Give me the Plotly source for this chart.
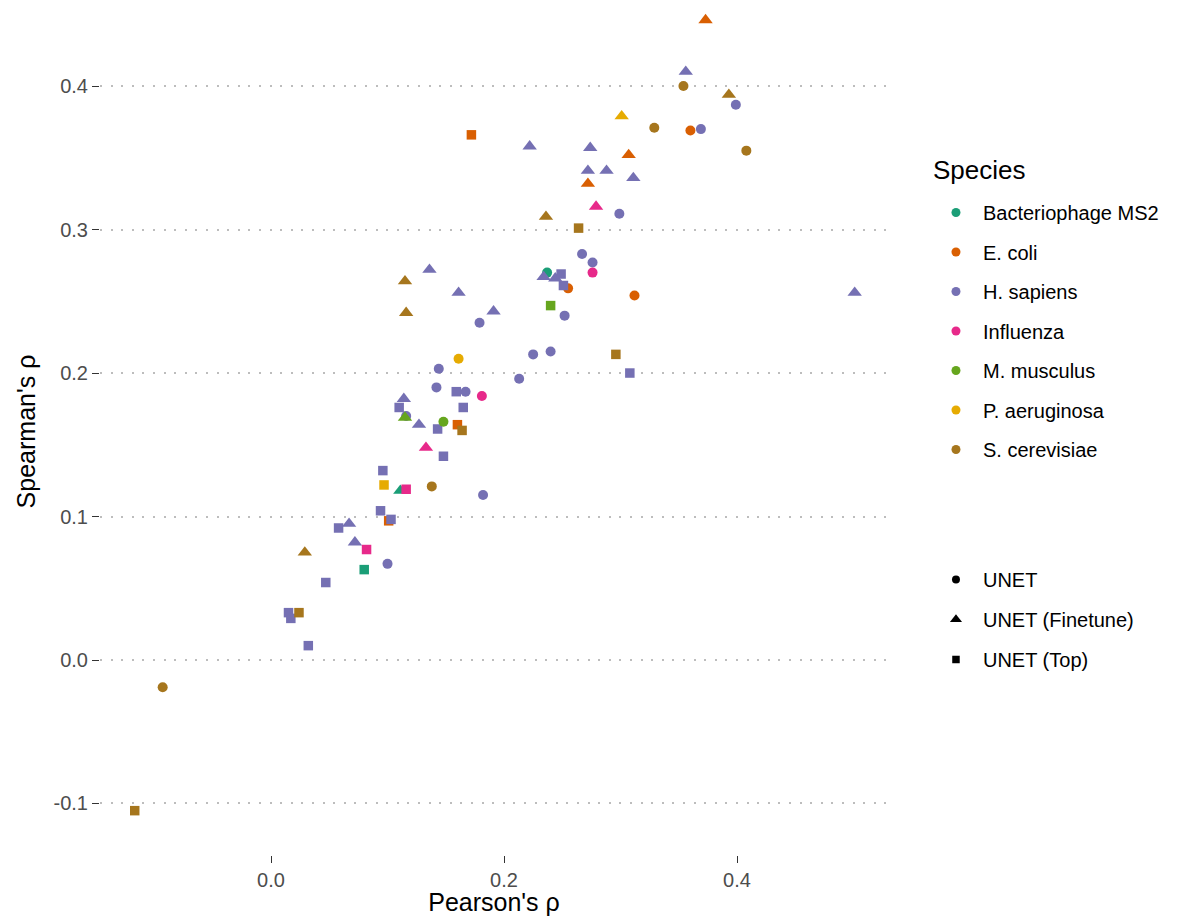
import plotly.graph_objects as go

# ---------------- data ----------------
species_names = ["Bacteriophage MS2", "E. coli", "H. sapiens", "Influenza",
                 "M. musculus", "P. aeruginosa", "S. cerevisiae"]
species_colors = ["#1B9E77", "#D95F02", "#7570B3", "#E7298A",
                  "#66A61E", "#E6AB02", "#A6761D"]
model_names = ["UNET", "UNET (Finetune)", "UNET (Top)"]
model_symbols = ["circle", "triangle-up", "square"]

ms2_pearson = [0.237, 0.111, 0.080]
ms2_spearman = [0.270, 0.118, 0.063]
ms2_model = ["UNET", "UNET (Finetune)", "UNET (Top)"]

ecoli_pearson = [0.360, 0.255, 0.312, 0.373, 0.307, 0.272, 0.172, 0.160, 0.101]
ecoli_spearman = [0.369, 0.259, 0.254, 0.446, 0.352, 0.332, 0.366, 0.164, 0.097]
ecoli_model = ["UNET"] * 3 + ["UNET (Finetune)"] * 3 + ["UNET (Top)"] * 3

hsap_pearson = [0.369, 0.399, 0.299, 0.267, 0.276, 0.252, 0.225, 0.240, 0.213, 0.179,
                0.144, 0.142, 0.167, 0.116, 0.182, 0.100,
                0.356, 0.222, 0.274, 0.272, 0.288, 0.311, 0.234, 0.244, 0.501, 0.136,
                0.161, 0.191, 0.114, 0.127, 0.067, 0.072,
                0.249, 0.251, 0.308, 0.159, 0.110, 0.165, 0.143, 0.148, 0.096, 0.094,
                0.103, 0.058, 0.047, 0.015, 0.017, 0.032]
hsap_spearman = [0.370, 0.387, 0.311, 0.283, 0.277, 0.240, 0.213, 0.215, 0.196, 0.235,
                 0.203, 0.190, 0.187, 0.170, 0.115, 0.067,
                 0.410, 0.358, 0.357, 0.341, 0.341, 0.336, 0.267, 0.266, 0.256, 0.272,
                 0.256, 0.243, 0.182, 0.164, 0.095, 0.082,
                 0.269, 0.261, 0.200, 0.187, 0.176, 0.176, 0.161, 0.142, 0.132, 0.104,
                 0.098, 0.092, 0.054, 0.033, 0.029, 0.010]
hsap_model = ["UNET"] * 16 + ["UNET (Finetune)"] * 16 + ["UNET (Top)"] * 16

flu_pearson = [0.276, 0.181, 0.279, 0.133, 0.116, 0.082]
flu_spearman = [0.270, 0.184, 0.316, 0.148, 0.119, 0.077]
flu_model = ["UNET"] * 2 + ["UNET (Finetune)"] * 2 + ["UNET (Top)"] * 2

mmus_pearson = [0.148, 0.115, 0.240]
mmus_spearman = [0.166, 0.169, 0.247]
mmus_model = ["UNET", "UNET (Finetune)", "UNET (Top)"]

paer_pearson = [0.161, 0.301, 0.097]
paer_spearman = [0.210, 0.379, 0.122]
paer_model = ["UNET", "UNET (Finetune)", "UNET (Top)"]

scer_pearson = [0.354, 0.329, 0.408, 0.138, -0.093,
                0.393, 0.236, 0.115, 0.116, 0.029,
                0.264, 0.296, 0.164, 0.024, -0.117]
scer_spearman = [0.400, 0.371, 0.355, 0.121, -0.019,
                 0.394, 0.309, 0.264, 0.242, 0.075,
                 0.301, 0.213, 0.160, 0.033, -0.105]
scer_model = ["UNET"] * 5 + ["UNET (Finetune)"] * 5 + ["UNET (Top)"] * 5

x_ticks = [0.0, 0.2, 0.4]
x_tick_labels = ["0.0", "0.2", "0.4"]
y_ticks = [-0.1, 0.0, 0.1, 0.2, 0.3, 0.4]
y_tick_labels = ["-0.1", "0.0", "0.1", "0.2", "0.3", "0.4"]

all_series = [
    (ms2_pearson, ms2_spearman, ms2_model),
    (ecoli_pearson, ecoli_spearman, ecoli_model),
    (hsap_pearson, hsap_spearman, hsap_model),
    (flu_pearson, flu_spearman, flu_model),
    (mmus_pearson, mmus_spearman, mmus_model),
    (paer_pearson, paer_spearman, paer_model),
    (scer_pearson, scer_spearman, scer_model),
]

# ---------------- figure ----------------
FONT = "Liberation Sans, Arial, Helvetica, sans-serif"
marker_sizes = {"circle": 10, "triangle-up": 12.5, "square": 9.5}

fig = go.Figure()

for name, color, (xs, ys, ms) in zip(species_names, species_colors, all_series):
    for mname, sym in zip(model_names, model_symbols):
        px = [x for x, m in zip(xs, ms) if m == mname]
        py = [y for y, m in zip(ys, ms) if m == mname]
        if not px:
            continue
        fig.add_trace(go.Scatter(
            x=px, y=py, mode="markers", showlegend=False,
            name=f"{name} – {mname}",
            marker=dict(symbol=sym, color=color, size=marker_sizes[sym],
                        line=dict(width=0)),
            hovertemplate=f"{name}<br>{mname}<br>Pearson: %{{x}}<br>Spearman: %{{y}}<extra></extra>",
        ))

# legend entries: species (colour)
for i, (name, color) in enumerate(zip(species_names, species_colors)):
    fig.add_trace(go.Scatter(
        x=[None], y=[None], mode="markers", name=name,
        legendgroup=f"sp{i}", legend="legend",
        marker=dict(symbol="circle", color=color, size=9, line=dict(width=0)),
    ))

# legend entries: model (shape)
for i, (mname, sym) in enumerate(zip(model_names, model_symbols)):
    fig.add_trace(go.Scatter(
        x=[None], y=[None], mode="markers", name=mname,
        legendgroup=f"md{i}", legend="legend2",
        marker=dict(symbol=sym, color="black", size=marker_sizes[sym] - 2,
                    line=dict(width=0)),
    ))

grid_common = dict(showgrid=True, gridcolor="#BDBDBD", gridwidth=2,
                   griddash="2px,8.6px")

fig.update_layout(
    width=1175, height=908,
    margin=dict(l=92, r=295, t=0, b=61),
    paper_bgcolor="white", plot_bgcolor="white",
    font=dict(family=FONT, size=20, color="#4D4D4D"),
    xaxis=dict(
        range=[-0.1468, 0.5296],
        tickmode="array", tickvals=x_ticks, ticktext=x_tick_labels,
        showgrid=False, zeroline=False, showline=False,
        ticks="outside", ticklen=7, tickwidth=1, tickcolor="#333333",
        tickfont=dict(family=FONT, size=20, color="#4D4D4D"),
        title=dict(text="Pearson's ρ", font=dict(family=FONT, size=25, color="black"),
                   standoff=3),
    ),
    yaxis=dict(
        range=[-0.1359, 0.4544],
        tickmode="array", tickvals=y_ticks, ticktext=y_tick_labels,
        zeroline=False, showline=False,
        ticks="outside", ticklen=7, tickwidth=1, tickcolor="#333333",
        tickfont=dict(family=FONT, size=20, color="#4D4D4D"),
        title=dict(text="Spearman's ρ", font=dict(family=FONT, size=25, color="black"),
                   standoff=10),
        **grid_common,
    ),
    legend=dict(
        font=dict(family=FONT, size=20, color="black"),
        x=1.052, xanchor="left", y=0.7816, yanchor="top",
        traceorder="grouped", tracegroupgap=10.5, itemwidth=44,
        bgcolor="rgba(0,0,0,0)",
    ),
    legend2=dict(
        font=dict(family=FONT, size=20, color="black"),
        x=1.052, xanchor="left", y=0.3483, yanchor="top",
        traceorder="grouped", tracegroupgap=11, itemwidth=44,
        bgcolor="rgba(0,0,0,0)",
    ),
    annotations=[dict(
        text="Species", xref="paper", yref="paper", x=1.0546, y=0.8087,
        xanchor="left", yanchor="middle", showarrow=False,
        font=dict(family=FONT, size=26, color="black"),
    )],
)

fig.write_html("out.html")
